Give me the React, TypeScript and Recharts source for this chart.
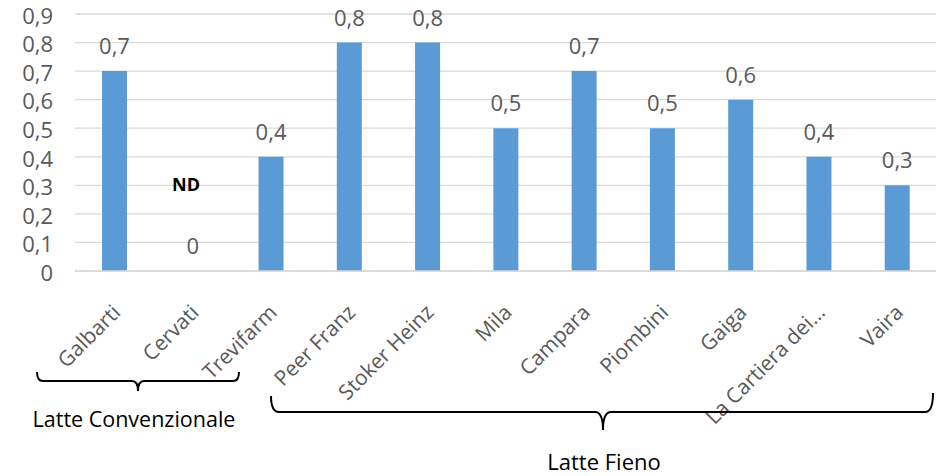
import React from 'react'
import { BarChart, Bar, XAxis, YAxis, CartesianGrid, LabelList } from 'recharts'

// Aziende e valori
const aziende = [
  'Galbarti',
  'Cervati',
  'Trevifarm',
  'Peer Franz',
  'Stoker Heinz',
  'Mila',
  'Campara',
  'Piombini',
  'Gaiga',
  'La Cartiera dei…',
  'Vaira',
]
const valori = [0.7, 0, 0.4, 0.8, 0.8, 0.5, 0.7, 0.5, 0.6, 0.4, 0.3]
const yTicks = [0, 0.1, 0.2, 0.3, 0.4, 0.5, 0.6, 0.7, 0.8, 0.9]

const gruppi = ['Latte Convenzionale', 'Latte Fieno']
const notaND = 'ND'

const data = aziende.map((name, i) => ({ name, value: valori[i] }))

const FONT = '"Open Sans", sans-serif'
const GRAY = '#595959'
const BLUE = '#5B9BD5'
const FS = 22

const fmt = (v: number) => (v === 0 ? '0' : v.toFixed(1).replace('.', ','))

function AngledTick({ x, y, payload }: any) {
  const ax = x + 2
  const ay = y + 29
  return (
    <text
      x={ax}
      y={ay}
      transform={`rotate(-45, ${ax}, ${ay})`}
      textAnchor="end"
      dominantBaseline="central"
      fill={GRAY}
      fontSize={21}
      fontFamily={FONT}
    >
      {payload.value}
    </text>
  )
}

// etichetta sopra la barra (anche per valore 0)
function ValueLabel({ x, y, width, value }: any) {
  return (
    <text
      x={Number(x) + Number(width) / 2}
      y={Number(y) - 17}
      textAnchor="middle"
      fill={GRAY}
      fontSize={FS}
      fontFamily={FONT}
    >
      {fmt(Number(value))}
    </text>
  )
}

export default function App() {
  return (
    <div style={{ position: 'absolute', top: 0, left: 0, width: 936, height: 476, background: '#fff' }}>
      <BarChart
        width={936}
        height={476}
        data={data}
        margin={{ top: 14, right: 0, left: 0, bottom: 0 }}
      >
        <CartesianGrid vertical={false} stroke="#D9D9D9" strokeWidth={1.3} />
        <XAxis
          dataKey="name"
          interval={0}
          height={205}
          tickLine={false}
          axisLine={{ stroke: '#D9D9D9', strokeWidth: 1.3 }}
          tick={<AngledTick />}
        />
        <YAxis
          width={75}
          domain={[0, 0.9]}
          ticks={yTicks}
          interval={0}
          tickFormatter={fmt}
          axisLine={false}
          tickLine={false}
          tickSize={0}
          tickMargin={22}
          tick={{ fill: GRAY, fontSize: FS, fontFamily: FONT, dy: 2 }}
        />
        <Bar dataKey="value" fill={BLUE} barSize={25} minPointSize={0.01} isAnimationActive={false}>
          <LabelList dataKey="value" content={<ValueLabel />} />
        </Bar>
      </BarChart>
      <svg
        width={936}
        height={476}
        style={{ position: 'absolute', top: 0, left: 0, pointerEvents: 'none' }}
      >
        <text x={186} y={184} textAnchor="middle" dominantBaseline="central" fontWeight="bold" fontSize={18} fontFamily={FONT} fill="#000">
          {notaND}
        </text>
        <path
          d="M37,372 Q37,381 43,381 L132,381 Q138,381 138,391 Q138,381 144,381 L233,381 Q239,381 239,372"
          fill="none"
          stroke="#000"
          strokeWidth={2}
        />
        <text x={134} y={418} textAnchor="middle" dominantBaseline="central" fontSize={21.5} fontFamily={FONT} fill="#000">
          {gruppi[0]}
        </text>
        <path
          d="M271,396 Q271,412 279,412 L595,412 Q603,412 603,430 Q603,412 611,412 L925,412 Q933,412 933,393"
          fill="none"
          stroke="#000"
          strokeWidth={2}
        />
        <text x={604} y={461} textAnchor="middle" dominantBaseline="central" fontSize={22} fontFamily={FONT} fill="#000">
          {gruppi[1]}
        </text>
      </svg>
    </div>
  )
}
